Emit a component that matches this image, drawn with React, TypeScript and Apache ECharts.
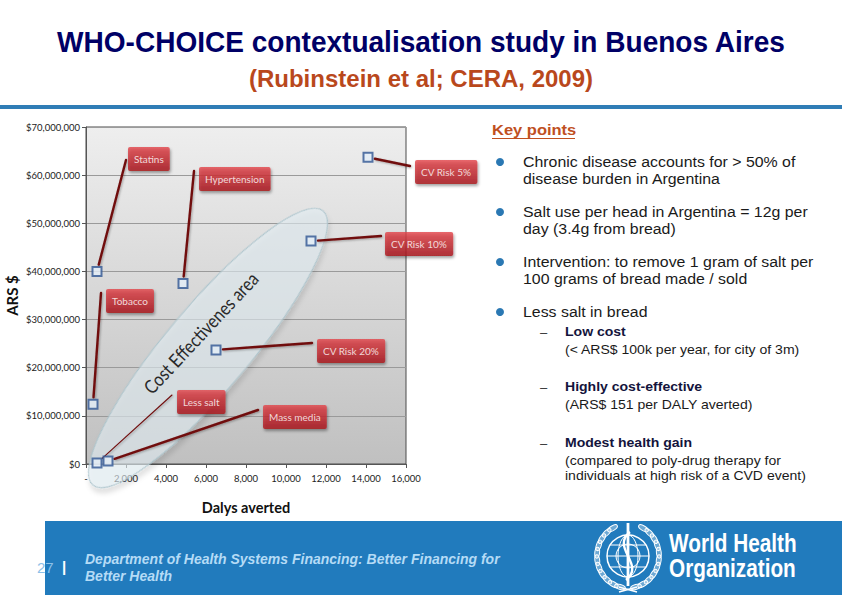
import React, { useEffect, useRef } from "react";
import * as echarts from "echarts";

// ---------- data ----------
const interventions = [
  "Statins",
  "Hypertension",
  "Tobacco",
  "CV Risk 5%",
  "CV Risk 10%",
  "CV Risk 20%",
  "Less salt",
  "Mass media",
];
const dalysAverted = [550, 4850, 350, 14100, 11250, 6500, 550, 1100];
const costARS = [40000000, 37500000, 12400000, 63700000, 46300000, 23700000, 200000, 600000];

const X_MIN = 0;
const X_MAX = 16000;
const X_STEP = 2000;
const Y_MIN = 0;
const Y_MAX = 70000000;
const Y_STEP = 10000000;

// layout of the callouts (pixels): top-left of each box, end of each leader line, leader width
const calloutAnchors = [
  [128, 147],
  [199, 167],
  [106, 289],
  [415, 160],
  [385, 232],
  [317, 339],
  [177, 390],
  [263, 405],
];
const leaderEnds = [
  [126, 160],
  [194, 171],
  [101, 293],
  [410, 166],
  [381, 236],
  [312, 343],
  [172, 395],
  [258, 410],
];
const leaderWidths = [2.4, 2.4, 2.4, 2.4, 2.4, 2.4, 1.1, 2.4];

const keyPoints = [
  ["Chronic disease accounts for > 50% of", "disease burden in Argentina"],
  ["Salt use per head in Argentina = 12g per", "day (3.4g from bread)"],
  ["Intervention: to remove 1 gram of salt per", "100 grams of bread made / sold"],
  ["Less salt in bread"],
];
const subPoints = [
  ["Low cost", "(< ARS$ 100k per year, for city of 3m)"],
  ["Highly cost-effective", "(ARS$ 151 per DALY averted)"],
  ["Modest health gain", "(compared to poly-drug therapy for", "individuals at high risk of a CVD event)"],
];

const fmt = (v: number) => String(v).replace(/\B(?=(\d{3})+(?!\d))/g, ",");

const ARIAL = "'Liberation Sans', Arial, sans-serif";
const CHART_FONT = "Lato, 'Open Sans', sans-serif";

function txt(text: string, x: number, y: number, o: any = {}) {
  return {
    type: "text",
    x,
    y,
    z: o.z ?? 10,
    rotation: o.rotation ?? 0,
    scaleX: o.scaleX ?? 1,
    style: {
      text,
      x: 0,
      y: 0,
      fill: o.fill ?? "#222",
      fontSize: o.fontSize ?? 14,
      fontFamily: o.fontFamily ?? ARIAL,
      fontWeight: o.fontWeight ?? "normal",
      fontStyle: o.fontStyle ?? "normal",
      align: o.align ?? "left",
      textAlign: o.align ?? "left",
      verticalAlign: "middle",
      textVerticalAlign: "middle",
    },
  };
}

function whoEmblem(cx: number, cy: number) {
  const els: any[] = [];
  for (const side of [-1, 1]) {
    for (let k = 0; k < 11; k++) {
      const th = ((30 + k * 13.5) * Math.PI) / 180;
      const x = cx + side * 31 * Math.sin(th);
      const y = cy - 32 * Math.cos(th);
      const ang = Math.atan2(Math.sin(th) * 32, side * Math.cos(th) * 31);
      els.push({
        type: "ellipse",
        x,
        y,
        rotation: -ang,
        shape: { cx: 0, cy: 0, rx: 5.5, ry: 2.4 },
        style: { fill: "rgba(255,255,255,0.35)", stroke: "#fff", lineWidth: 1 },
        z: 10,
      });
    }
  }
  els.push({ type: "circle", shape: { cx, cy, r: 21 }, style: { fill: "none", stroke: "#fff", lineWidth: 1.5 }, z: 10 });
  els.push({ type: "ellipse", shape: { cx, cy, rx: 10, ry: 21 }, style: { fill: "none", stroke: "#fff", lineWidth: 1 }, z: 10 });
  els.push({ type: "circle", shape: { cx, cy, r: 12 }, style: { fill: "none", stroke: "#fff", lineWidth: 1 }, z: 10 });
  for (const dy of [-11, 0, 11]) {
    const hw = Math.sqrt(21 * 21 - dy * dy);
    els.push({ type: "line", shape: { x1: cx - hw, y1: cy + dy, x2: cx + hw, y2: cy + dy }, style: { stroke: "#fff", lineWidth: 1 }, z: 10 });
  }
  els.push({ type: "line", shape: { x1: cx, y1: cy - 33, x2: cx, y2: cy + 30 }, style: { stroke: "#fff", lineWidth: 2.8 }, z: 11 });
  els.push({
    type: "bezierCurve",
    shape: { x1: cx - 2, y1: cy + 24, x2: cx + 2, y2: cy - 24, cpx1: cx + 18, cpy1: cy + 8, cpx2: cx - 18, cpy2: cy - 8 },
    style: { fill: "none", stroke: "#fff", lineWidth: 2.4 },
    z: 11,
  });
  els.push({ type: "line", shape: { x1: cx - 9, y1: cy + 31, x2: cx + 9, y2: cy + 36 }, style: { stroke: "#fff", lineWidth: 1.5 }, z: 10 });
  els.push({ type: "line", shape: { x1: cx + 9, y1: cy + 31, x2: cx - 9, y2: cy + 36 }, style: { stroke: "#fff", lineWidth: 1.5 }, z: 10 });
  return els;
}

export default function App() {
  const ref = useRef<HTMLDivElement>(null);

  useEffect(() => {
    if (!ref.current) return;
    const chart = echarts.init(ref.current, undefined, { renderer: "svg" });

    const graphics: any[] = [];
    // header
    graphics.push(txt("WHO-CHOICE contextualisation study in Buenos Aires", 421, 42, { fontSize: 29, scaleX: 0.967, fontWeight: "bold", fill: "#000066", align: "center" }));
    graphics.push(txt("(Rubinstein et al; CERA, 2009)", 421, 78, { fontSize: 24, fontWeight: "bold", fill: "#b9481c", align: "center" }));
    graphics.push({ type: "rect", shape: { x: 0, y: 105, width: 842, height: 4 }, style: { fill: "#2f7db6" }, z: 5 });

    // cost-effectiveness ellipse
    graphics.push({
      type: "ellipse",
      x: 208,
      y: 348,
      rotation: (50 * Math.PI) / 180,
      shape: { cx: 0, cy: 0, rx: 179, ry: 42 },
      style: {
        fill: "rgba(226,239,244,0.6)",
        stroke: "#adc5cd",
        lineWidth: 1,
        shadowColor: "rgba(0,0,0,0.18)",
        shadowBlur: 5,
        shadowOffsetX: -3,
        shadowOffsetY: 4,
      },
      z: 1,
    });
    graphics.push(txt("Cost Effectivenes area", 201, 333, { fontSize: 19, scaleX: 0.85, fontFamily: CHART_FONT, fill: "#2a2a2a", align: "center", rotation: (47 * Math.PI) / 180, z: 1 }));

    // key points
    graphics.push(txt("Key points", 492, 130, { fontSize: 15, scaleX: 1.1, fontWeight: "bold", fill: "#c0501f" }));
    graphics.push({ type: "line", shape: { x1: 492, y1: 138.5, x2: 575, y2: 138.5 }, style: { stroke: "#c0501f", lineWidth: 1.2 }, z: 10 });
    const kpY = [162, 212, 262, 312];
    keyPoints.forEach((lines, i) => {
      graphics.push({ type: "circle", shape: { cx: 500, cy: kpY[i], r: 4 }, style: { fill: "#2a78b3" }, z: 10 });
      lines.forEach((l, j) => graphics.push(txt(l, 523, kpY[i] + j * 17, { fontSize: 15, scaleX: 1.06, fill: "#1a1a1a" })));
    });
    const spY = [332, 387, 443];
    subPoints.forEach((lines, i) => {
      graphics.push(txt("–", 540, spY[i], { fontSize: 13, fill: "#333" }));
      graphics.push(txt(lines[0], 565, spY[i], { fontSize: 13, scaleX: 1.08, fontWeight: "bold", fill: "#14143c" }));
      lines.slice(1).forEach((l, j) => graphics.push(txt(l, 565, spY[i] + 18 + j * 15, { fontSize: 13, scaleX: 1.08, fill: "#1a1a1a" })));
    });

    // footer
    graphics.push({ type: "rect", shape: { x: 45, y: 521, width: 797, height: 74 }, style: { fill: "#217bbd" }, z: 5 });
    graphics.push(txt("27", 37, 567, { fontSize: 15, fill: "#8cc0e8" }));
    graphics.push(txt("|", 62, 566, { fontSize: 15, fontWeight: "bold", fill: "#ffffff" }));
    graphics.push(txt("Department of Health Systems Financing: Better Financing for", 85, 559, { fontSize: 14, fontWeight: "bold", fontStyle: "italic", fill: "#b5dbf6" }));
    graphics.push(txt("Better Health", 85, 576, { fontSize: 14, fontWeight: "bold", fontStyle: "italic", fill: "#b5dbf6" }));
    graphics.push(...whoEmblem(628, 556));
    graphics.push(txt("World Health", 669, 543, { fontSize: 25, scaleX: 0.83, fontWeight: "bold", fill: "#ffffff" }));
    graphics.push(txt("Organization", 669, 568, { fontSize: 25, scaleX: 0.83, fontWeight: "bold", fill: "#ffffff" }));

    const calloutBg = new echarts.graphic.LinearGradient(0, 0, 0, 1, [
      { offset: 0, color: "#e3444a" },
      { offset: 1, color: "#a9141b" },
    ]);

    const points = interventions.map((n, i) => ({ name: n, value: [dalysAverted[i], costARS[i]] }));

    chart.setOption({
      animation: false,
      backgroundColor: "#ffffff",
      grid: {
        left: 86,
        top: 127,
        width: 320,
        height: 337,
        show: true,
        borderColor: "#4a4a4a",
        borderWidth: 1,
        backgroundColor: new echarts.graphic.LinearGradient(0, 0, 0, 1, [
          { offset: 0, color: "#eeeeee" },
          { offset: 1, color: "#c0c0c0" },
        ]),
      },
      xAxis: {
        type: "value",
        min: X_MIN,
        max: X_MAX,
        interval: X_STEP,
        name: "Dalys averted",
        nameLocation: "middle",
        nameGap: 36,
        nameTextStyle: { fontSize: 14.5, fontWeight: "bold", fontFamily: CHART_FONT, color: "#111" },
        axisLine: { show: true, lineStyle: { color: "#555" } },
        axisTick: { show: true, length: 4, lineStyle: { color: "#555" } },
        splitLine: { show: false },
        axisLabel: {
          fontSize: 9.5,
          fontFamily: CHART_FONT,
          color: "#222",
          margin: 9,
          formatter: (v: number) => (v === 0 ? "-" : fmt(v)),
        },
      },
      yAxis: {
        type: "value",
        min: Y_MIN,
        max: Y_MAX,
        interval: Y_STEP,
        name: "ARS $",
        nameLocation: "middle",
        nameRotate: 90,
        nameGap: 67,
        nameTextStyle: { fontSize: 15, fontWeight: "bold", fontFamily: CHART_FONT, color: "#111" },
        axisLine: { show: true, lineStyle: { color: "#555" } },
        axisTick: { show: true, length: 4, lineStyle: { color: "#555" } },
        splitLine: { show: true, lineStyle: { color: "#9a9a9a", width: 1 } },
        axisLabel: {
          fontSize: 9.5,
          fontFamily: CHART_FONT,
          color: "#222",
          margin: 6,
          formatter: (v: number) => "$" + fmt(v),
        },
      },
      series: [
        {
          type: "custom",
          name: "leaders",
          z: 2,
          clip: false,
          silent: true,
          data: points.map((p) => p.value),
          renderItem: (params: any, api: any) => {
            const i = params.dataIndex;
            const p = api.coord([api.value(0), api.value(1)]);
            const ex = leaderEnds[i][0];
            const ey = leaderEnds[i][1];
            const dx = ex - p[0];
            const dy = ey - p[1];
            const len = Math.hypot(dx, dy) || 1;
            const gap = 7;
            return {
              type: "line",
              shape: { x1: p[0] + (dx / len) * gap, y1: p[1] + (dy / len) * gap, x2: ex, y2: ey },
              style: {
                stroke: "#700c0c",
                lineWidth: leaderWidths[i],
                lineCap: "round",
                shadowColor: "rgba(0,0,0,0.3)",
                shadowBlur: 2,
                shadowOffsetX: 1,
                shadowOffsetY: 1,
              },
            };
          },
        },
        {
          type: "scatter",
          z: 3,
          symbol: "rect",
          symbolSize: 9,
          itemStyle: { color: "#e4edf8", borderColor: "#2f5592", borderWidth: 2 },
          data: points,
          label: {
            show: true,
            formatter: "{b}",
            color: "#ffffff",
            fontSize: 10,
            fontFamily: CHART_FONT,
            padding: [7, 6],
            backgroundColor: calloutBg,
            borderRadius: 2,
            shadowColor: "rgba(0,0,0,0.45)",
            shadowBlur: 3,
            shadowOffsetX: 1,
            shadowOffsetY: 2,
          },
          labelLine: { show: false },
          labelLayout: (p: any) => ({
            x: calloutAnchors[p.dataIndex][0],
            y: calloutAnchors[p.dataIndex][1],
            align: "left",
            verticalAlign: "top",
          }),
        },
      ],
      graphic: { elements: graphics },
    });

    return () => chart.dispose();
  }, []);

  return <div ref={ref} style={{ position: "absolute", left: 0, top: 0, width: 842, height: 595 }} />;
}
